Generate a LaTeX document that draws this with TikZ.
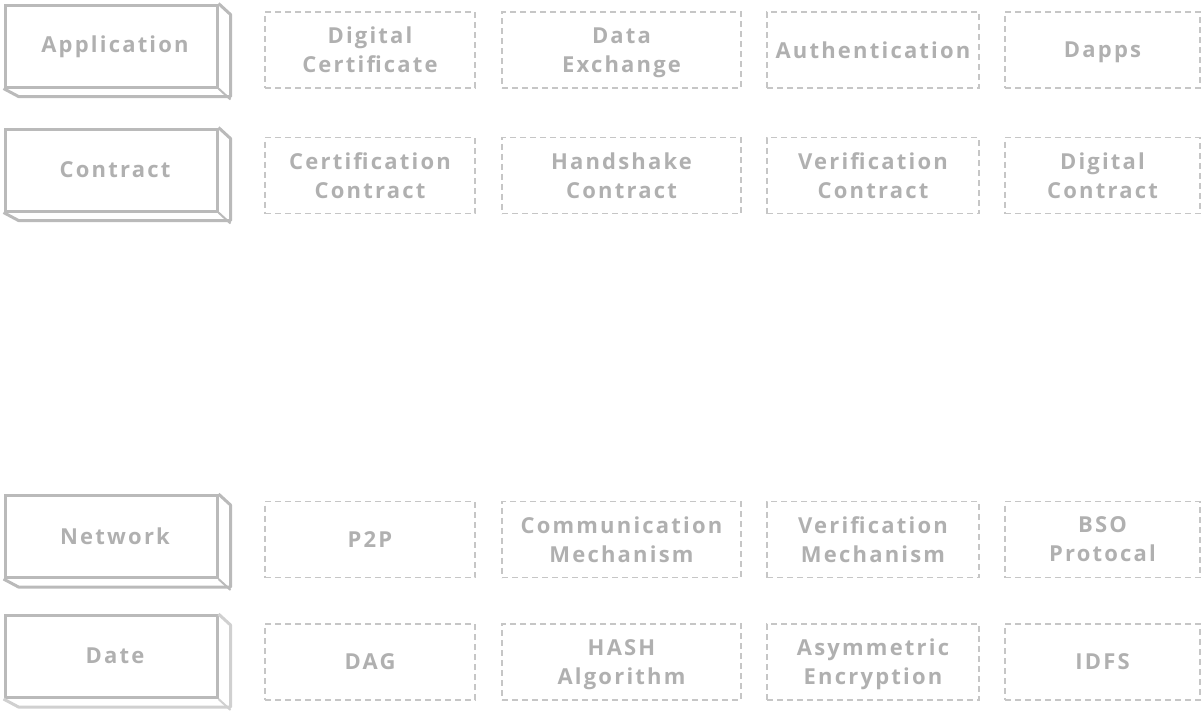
\documentclass[tikz,border=0pt]{standalone}
\usepackage{fontspec}
\newfontfamily\layerfont{Open Sans}[LetterSpace=10, BoldFont={* Bold}]
\definecolor{layertext}{HTML}{B0B0B0}
\definecolor{layerline}{HTML}{BABABA}
\definecolor{layerside}{HTML}{D0D0D0}
\definecolor{dashline}{HTML}{C6C6C6}
% a line whose descenders do not count in the vertical centring
\newcommand{\nodepth}[1]{\raisebox{0pt}[\height][0pt]{#1}}
\begin{document}
\begin{tikzpicture}[x=1pt,y=-1pt,
  labelfont/.style={font=\layerfont\bfseries\fontsize{22}{29}\selectfont, text=layertext},
  layerbox/.style={draw=layerline, line width=3pt, minimum width=212pt,
    minimum height=82pt, inner sep=0pt, anchor=north west},
  layerlabel/.style={labelfont, anchor=base},
  cell/.style={labelfont, draw=dashline, line width=1.4pt, dash pattern=on 6pt off 4pt,
    inner sep=0pt, align=center, anchor=center}]
\useasboundingbox (0,0) rectangle (1202,710);

% extruded layer boxes on the left: front face, then side and bottom faces
\newcommand{\layerbox}[5]{%
  \node[layerbox] (#1) at (3.5,#2) {};
  \draw[#5, line width=3pt, line join=round]
    (#1.north east) -- ++(12,11) -- ++(0,82) -- ++(-212,0) -- (#1.south west);
  \draw[#5, line width=2pt] (#1.south east) -- ++(12,11);
  \node[layerlabel] (#1-label) at (115,#3) {#4};
}
\layerbox{app}{3.5}{52.5}{Application}{layerline}
\layerbox{con}{127.5}{177.5}{Contract}{layerline}
\layerbox{net}{494}{544.5}{Network}{layerline}
\layerbox{dat}{614}{663.5}{Date}{layerside}

% dashed component cells
\newcommand{\cellrow}[6]{%
  \node[cell, minimum width=210pt, minimum height=76pt] (#1-a) at (370,#2) {#3};
  \node[cell, minimum width=239pt, minimum height=76pt] (#1-b) at (621.5,#2) {#4};
  \node[cell, minimum width=212pt, minimum height=76pt] (#1-c) at (873,#2) {#5};
  \node[cell, minimum width=195pt, minimum height=76pt] (#1-d) at (1102.5,#2) {#6};
}
\cellrow{r1}{50}{Digital\\Certificate}{Data\\\nodepth{Exchange}}{Authentication}{\nodepth{Dapps}}
\cellrow{r2}{175.5}{Certification\\Contract}{Handshake\\Contract}{Verification\\Contract}{Digital\\Contract}
\cellrow{r3}{539.5}{P2P}{Communication\\Mechanism}{Verification\\Mechanism}{BSO\\Protocal}
\cellrow{r4}{662}{DAG}{HASH\\\nodepth{Algorithm}}{Asymmetric\\\nodepth{Encryption}}{IDFS}
\end{tikzpicture}
\end{document}
